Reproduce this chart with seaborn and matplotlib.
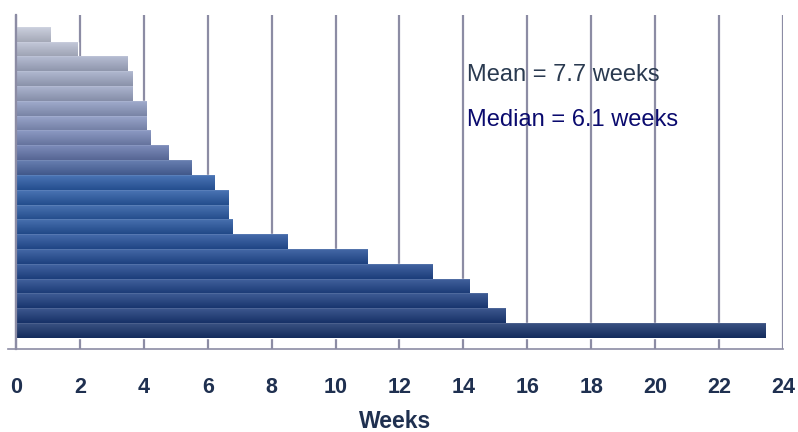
import numpy as np
import matplotlib
matplotlib.use("Agg")
import matplotlib.pyplot as plt
import matplotlib.colors as mcolors
from matplotlib.ticker import MultipleLocator
import seaborn as sns

# data: time in weeks for each case, longest at the bottom
cases = ["1", "2", "3", "4", "5", "6", "7", "8", "9", "10", "11",
         "12", "13", "14", "15", "16", "17", "18", "19", "20", "21"]
weeks = [1.09, 1.93, 3.48, 3.64, 3.64, 4.07, 4.07, 4.20, 4.77, 5.49, 6.20,
         6.64, 6.64, 6.77, 8.49, 11.01, 13.04, 14.20, 14.76, 15.33, 23.46]
bar_colors = ["#c2c7d8", "#b8bed2", "#a9b1cb", "#a3acc8", "#9da7c6", "#8f9cc3",
              "#8694c0", "#7888b9", "#6678ae", "#4d68a3", "#2b5ca8", "#2a5ba6",
              "#2959a3", "#2756a0", "#25519c", "#234d96", "#214890", "#1f448a",
              "#1d3f82", "#1b3a7a", "#17336c"]
mean_text = "Mean = 7.7 weeks"
median_text = "Median = 6.1 weeks"

sns.set_style("white")
plt.rcParams['font.family'] = ['Liberation Sans', 'DejaVu Sans']

grey = "#8c8ca4"
navy = "#1f3050"

fig = plt.figure(figsize=(7.98, 4.32), dpi=100)
ax = fig.add_axes([8 / 798, 83 / 432, 775 / 798, 334 / 432])

sns.barplot(x=weeks, y=cases, hue=cases, palette=bar_colors, orient="h",
            width=1.0, legend=False, ax=ax, zorder=1)

# vertical shading on every bar, light on top, dark underneath
for patch, col in zip(ax.patches, bar_colors):
    x0, y0 = patch.get_x(), patch.get_y()
    w, h = patch.get_width(), patch.get_height()
    rgb = np.array(mcolors.to_rgb(col))
    t = np.linspace(0, 1, 30)[:, None]
    top = rgb + (1 - rgb) * 0.15
    bot = rgb * 0.85
    grad = top * (1 - t) + bot * t
    grad[0] = rgb + (1 - rgb) * 0.3
    ax.imshow(grad[:, None, :], extent=[x0, x0 + w, y0 + h, y0],
              aspect="auto", zorder=1.5, interpolation="bilinear")

ax.set_xlim(-0.25, 24)
ax.set_ylim(21.24, -1.31)

ax.set_axisbelow(True)
ax.xaxis.grid(True, color=grey, linewidth=1.6)
ax.yaxis.grid(False)
ax.xaxis.set_major_locator(MultipleLocator(2))
ax.xaxis.set_minor_locator(MultipleLocator(1))
ax.set_xticks(np.arange(0, 25, 2))

ax.tick_params(axis="x", which="major", direction="inout", length=12, width=1.6,
               color=grey, labelsize=15.5, labelcolor=navy, pad=14)
ax.tick_params(axis="x", which="minor", direction="inout", length=8, width=1.6,
               color=grey)
for lab in ax.get_xticklabels():
    lab.set_fontweight("bold")

ax.set_yticks([-1.31], [""])
ax.tick_params(axis="y", direction="out", length=6, width=1.6, color=grey)

for s in ["top", "right"]:
    ax.spines[s].set_visible(False)
ax.spines["left"].set_position(("data", 0))
ax.spines["left"].set_color(grey)
ax.spines["left"].set_linewidth(1.6)
ax.spines["bottom"].set_color(grey)
ax.spines["bottom"].set_linewidth(1.2)

ax.set_ylabel("")
ax.set_xlabel("Weeks", fontsize=16.5, fontweight="bold", color=navy, labelpad=9)

ax.text(0.592, 0.802, mean_text, transform=ax.transAxes, fontsize=17,
        color="#2a3a50", va="baseline", ha="left")
ax.text(0.592, 0.668, median_text, transform=ax.transAxes, fontsize=17,
        color="#0a0a6e", va="baseline", ha="left")

fig.savefig("out.png", dpi=100)
